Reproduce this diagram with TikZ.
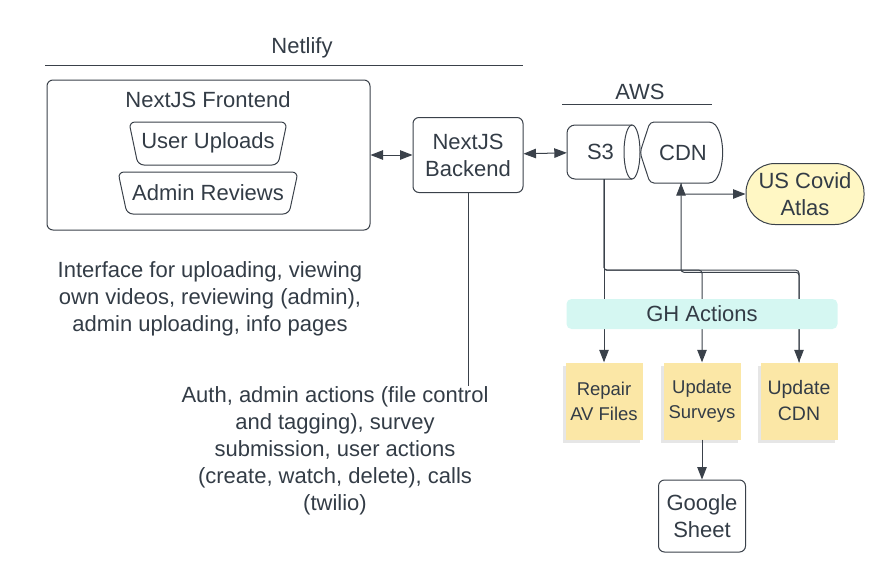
\documentclass[tikz,border=0pt]{standalone}
\usepackage{fontspec}
\setmainfont{Liberation Sans}
\usepackage{tikz}
\usetikzlibrary{arrows.meta,shadows}
\definecolor{ink}{HTML}{3A414A}
\definecolor{txt}{HTML}{333C46}
\definecolor{sticky}{HTML}{FBE7A6}
\definecolor{atlasfill}{HTML}{FFF7C4}
\definecolor{ghfill}{HTML}{D5F7F2}
\def\lw{1pt}
\def\big{\fontsize{22}{27}\selectfont}
\def\small{\fontsize{18.5}{25}\selectfont}

\begin{document}
\begin{tikzpicture}[x=1pt,y=-1pt]
    \tikzset{%
      box/.style={draw=ink, line width=\lw, rounded corners=6pt, text=txt, align=center, font=\big},
      descr/.style={text=txt, align=center, font=\big, inner sep=0pt},
      conn/.style={draw=ink, line width=\lw, rounded corners=3pt, -{Triangle[length=12.5pt,width=9.5pt]}},
      biconn/.style={conn, {Triangle[length=12.5pt,width=9.5pt]}-{Triangle[length=12.5pt,width=9.5pt]}},
      wire/.style={draw=ink, line width=\lw},
      note/.style={fill=sticky, text=txt, align=center, font=\small, minimum width=77pt, minimum height=77pt,
        drop shadow={shadow xshift=-3pt, shadow yshift=-3pt, opacity=0.2}}}

    \useasboundingbox (0,0) rectangle (894,587);

    % netlify part
    \node[descr] (netlify) at (302,48) {Netlify};
    \draw[wire] (45,65) -- (523,65);
    \node[box, minimum width=323, minimum height=150] (front) at (208.5,155) {};
    \node[descr] (fronttitle) at (208,100) {NextJS Frontend};
    \draw[wire, rounded corners=6pt] (129,122) -- (287,122) -- (278,165) -- (138,165) -- cycle;
    \node[descr] (uploads) at (208,143) {User Uploads};
    \draw[wire, rounded corners=6pt] (118,172) -- (298,172) -- (289,214) -- (127,214) -- cycle;
    \node[descr] (reviews) at (208,193) {Admin Reviews};
    \node[descr] (fronttxt) at (210,299) {Interface for uploading, viewing\\own videos, reviewing (admin),\\admin uploading, info pages};

    \node[box, minimum width=110, minimum height=75] (back) at (468,155) {NextJS\\Backend};
    \node[descr, anchor=north] (backtxt) at (335,386) {Auth, admin actions (file control\\and tagging), survey\\submission, user actions\\(create, watch, delete), calls\\(twilio)};

    % aws part
    \node[descr] (aws) at (640,92) {AWS};
    \draw[wire] (562,104) -- (712,104);
    \node[descr, minimum width=73, minimum height=54] (s3) at (603.5,152) {S3\hspace{6pt}};
    \draw[wire, rounded corners=8pt] (632,125) -- (567,125) -- (567,179) -- (632,179);
    \draw[wire] (632,152) ellipse [x radius=8, y radius=27];
    \node[descr, minimum width=82, minimum height=61] (cdn) at (681,152.5) {\hspace{4pt}CDN};
    \draw[wire, rounded corners=4pt] (650,122) -- (713,122) .. controls (725,137) and (725,168) .. (713,183) -- (650,183) -- (640,152.5) -- cycle;
    \node[box, fill=atlasfill, minimum width=118, minimum height=61, rounded corners=29pt] (atlas) at (805,194) {US Covid\\Atlas};

    \node[note] (repair) at (604,401) {Repair\\AV Files};
    \node[note] (surveys) at (702,401) {Update\\Surveys};
    \node[note, font=\fontsize{19.5}{26}\selectfont] (upcdn) at (799,401) {Update\\CDN};
    \node[box, minimum width=87, minimum height=72] (sheet) at (702,516) {Google\\Sheet};

    % connectors
    \draw[biconn] (front) -- (back);
    \draw[biconn] (back) -- (s3);
    \draw[wire] (back) -- (back |- backtxt.north);
    \draw[conn] (cdn.south) |- (atlas);
    \draw[conn] (s3.south -| repair) -- (repair.north);
    \draw[conn] (s3.south -| repair) -- ++(0,91) -| (surveys.north);
    \draw[conn] (s3.south -| repair) -- ++(0,91) -| (upcdn.north);
    \draw[conn] (upcdn.north) -- ++(0,-90) -| (cdn.south);
    \draw[conn] (surveys) -- (sheet);

    \node[descr, fill=ghfill, rounded corners=5pt, minimum width=271, minimum height=30] (gh) at (702,314) {GH Actions};
  \end{tikzpicture}
\end{document}
